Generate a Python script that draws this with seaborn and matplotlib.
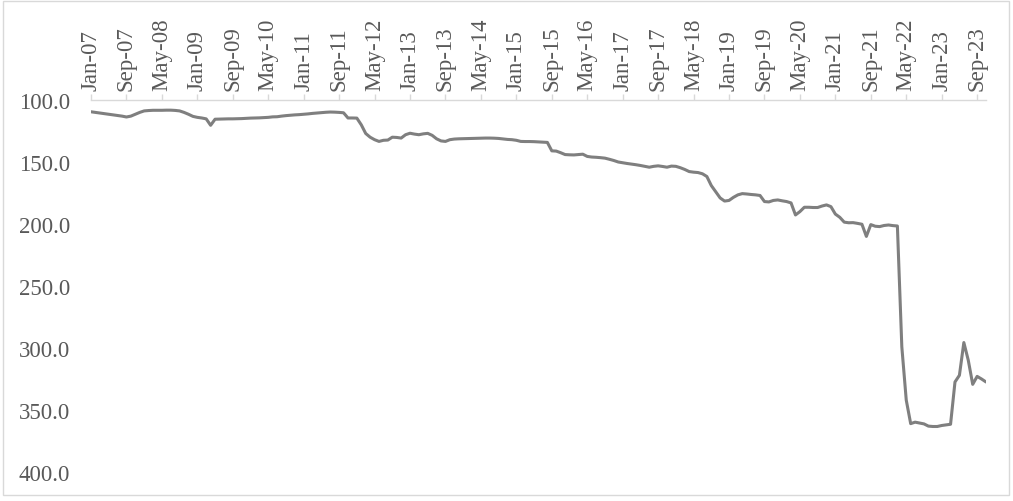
import numpy as np
import pandas as pd
import seaborn as sns
import matplotlib
matplotlib.use("Agg")
import matplotlib.pyplot as plt
from matplotlib.patches import Rectangle

# Monthly index values, Jan-2007 .. Nov-2023
months = pd.date_range("2007-01-01", "2023-11-01", freq="MS")
values = [
    # 2007
    109.5, 110.0, 110.5, 111.0, 111.5, 112.0, 112.5, 113.0, 113.7, 113.0, 111.5, 110.0,
    # 2008
    108.8, 108.5, 108.3, 108.3, 108.3, 108.2, 108.2, 108.4, 108.8, 110.0, 111.5, 113.2,
    # 2009
    114.0, 114.5, 115.2, 120.4, 115.5, 115.4, 115.3, 115.2, 115.2, 115.1, 115.0, 114.8,
    # 2010
    114.6, 114.5, 114.4, 114.2, 114.0, 113.6, 113.5, 113.0, 112.6, 112.3, 112.0, 111.8,
    # 2011
    111.5, 111.2, 110.8, 110.5, 110.2, 109.9, 109.7, 109.8, 110.0, 110.3, 114.5, 114.5,
    # 2012
    114.6, 120.0, 127.0, 130.0, 132.0, 133.4, 132.5, 132.3, 130.0, 130.2, 130.7, 128.0,
    # 2013
    126.8, 127.5, 128.0, 127.3, 126.9, 128.5, 131.3, 133.0, 133.4, 132.0, 131.5, 131.3,
    # 2014
    131.2, 131.1, 131.0, 130.9, 130.8, 130.7, 130.7, 130.8, 131.0, 131.4, 131.8, 132.0,
    # 2015
    132.5, 133.4, 133.5, 133.5, 133.6, 133.8, 134.0, 134.2, 141.0, 141.2, 142.5, 144.0,
    # 2016
    144.2, 144.3, 144.0, 143.7, 145.5, 146.0, 146.2, 146.5, 146.9, 147.8, 148.8, 150.0,
    # 2017
    150.6, 151.2, 151.7, 152.2, 152.8, 153.5, 154.2, 153.5, 153.1, 153.6, 154.2, 153.3,
    # 2018
    153.5, 154.6, 156.0, 157.7, 158.2, 158.5, 159.5, 161.7, 169.0, 174.0, 179.0, 181.5,
    # 2019
    181.0, 178.5, 176.5, 175.5, 175.8, 176.2, 176.5, 177.0, 181.9, 182.2, 181.0, 180.6,
    # 2020
    181.3, 181.9, 183.0, 192.7, 190.0, 186.5, 186.5, 186.7, 186.7, 185.5, 184.6, 186.0,
    # 2021
    192.0, 194.6, 198.5, 199.0, 198.9, 199.5, 200.2, 210.0, 200.5, 201.8, 202.1, 201.2,
    # 2022
    200.8, 201.3, 201.6, 299.0, 342.0, 361.0, 359.8, 360.5, 361.2, 363.0, 363.3, 363.3,
    # 2023
    362.5, 362.0, 361.5, 327.4, 322.0, 295.6, 309.9, 329.3, 322.9, 325.0, 327.4,
]

tick_step = 8
tick_pos = list(range(0, len(months), tick_step))
tick_labels = [months[i].strftime("%b-%y") for i in tick_pos]

y_ticks = [100, 150, 200, 250, 300, 350, 400]
y_tick_labels = [f"{v:.1f}" for v in y_ticks]

df = pd.DataFrame({"idx": np.arange(len(values)), "value": values})

sns.set_theme(style="white")
plt.rcParams["font.family"] = ["Liberation Serif", "DejaVu Serif"]

fig = plt.figure(figsize=(10.13, 5.02), dpi=100)
ax = fig.add_axes([91 / 1013, 1 - 473 / 502, (986 - 91) / 1013, (473 - 101) / 502])

sns.lineplot(data=df, x="idx", y="value", ax=ax, color="#7f7f7f", linewidth=2.2)

ax.set_xlim(0, len(values) - 1)
ax.set_ylim(400, 100)
ax.set_yticks(y_ticks)
ax.set_yticklabels(y_tick_labels)
ax.set_xticks(tick_pos)
ax.set_xticklabels(tick_labels, rotation=90)
ax.xaxis.tick_top()
ax.set_xlabel("")
ax.set_ylabel("")

for side in ["left", "right", "bottom"]:
    ax.spines[side].set_visible(False)
ax.spines["top"].set_color("#d9d9d9")
ax.spines["top"].set_linewidth(1.0)

ax.tick_params(axis="x", which="major", top=True, bottom=False, length=4, width=1.0,
               color="#d9d9d9", pad=3, labelsize=16.5, labelcolor="#595959")
ax.tick_params(axis="y", which="major", left=False, length=0, pad=15,
               labelsize=16.5, labelcolor="#595959")
ax.grid(False)

# chart-area border
fig.patches.append(Rectangle((3 / 1013, 1 - 496 / 502), 1006 / 1013, 494 / 502,
                             transform=fig.transFigure, fill=False,
                             edgecolor="#d9d9d9", linewidth=1.0))

fig.savefig("out.png", dpi=100, facecolor="white")
